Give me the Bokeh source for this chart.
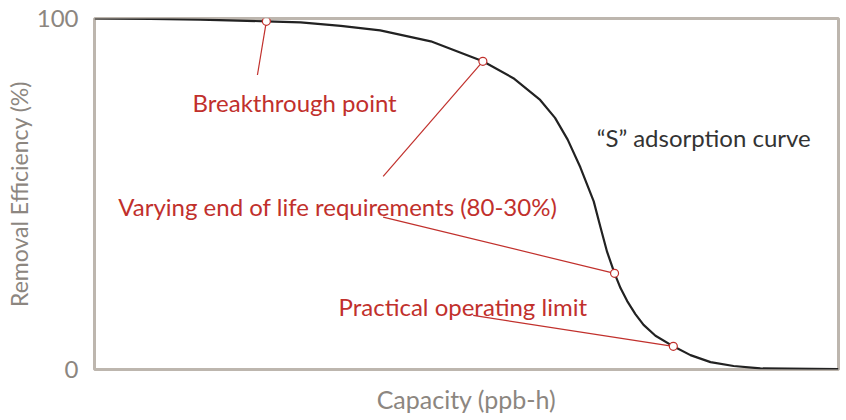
from bokeh.plotting import figure
from bokeh.models import Range1d, FixedTicker
from bokeh.core.properties import value
from bokeh.embed import file_html
from bokeh.resources import INLINE

# S-shaped adsorption curve (capacity in % of axis span, removal efficiency %)
capacity = [0, 7.5, 14.2, 23.1, 27.7, 33.1, 38.4, 45.2, 52.2, 56.3, 59.9, 61.9,
            63.6, 65.3, 67.1, 68.0, 68.9, 69.9, 70.7, 71.6, 72.7, 73.8, 75.4,
            77.8, 80.1, 82.8, 85.9, 89.5, 100]
efficiency = [100, 99.9, 99.7, 99.2, 98.9, 97.9, 96.6, 93.5, 87.8, 83.0, 76.8, 71.7,
              65.5, 57.6, 47.9, 40.6, 33.5, 27.4, 23.2, 19.5, 15.8, 12.7, 9.6,
              6.6, 4.1, 2.1, 1.0, 0.3, 0.1]

# marked points on the curve
mark_x = [23.1, 52.2, 69.9, 77.8]
mark_y = [99.2, 87.8, 27.4, 6.6]

# leader lines (from label to point)
lead_x0 = [21.9, 38.8, 38.8, 50.9]
lead_y0 = [83.9, 55.0, 43.4, 15.4]

# annotation labels
labels = ["Breakthrough point", "Varying end of life requirements (80-30%)",
          "Practical operating limit"]
label_x = [26.9, 32.7, 49.5]
label_y = [76.0, 46.5, 18.0]

curve_label = ["\u201cS\u201d adsorption curve"]
curve_label_x = [81.9]
curve_label_y = [66.1]

y_ticks = [0, 100]

RED = "#c1302c"
GRAY = "#8c8680"
FONT = "Lato"

p = figure(width=842, height=416, output_backend="svg", toolbar_location=None,
           x_range=Range1d(0, 100), y_range=Range1d(0, 100),
           min_border_left=94, min_border_right=4, min_border_top=18, min_border_bottom=44)

p.outline_line_color = "#bdb6ae"
p.outline_line_width = 3
p.outline_line_alpha = 1
p.grid.visible = False
p.background_fill_color = "white"
p.border_fill_color = "white"

p.yaxis.ticker = FixedTicker(ticks=y_ticks)
p.yaxis.axis_line_color = None
p.yaxis.major_tick_line_color = None
p.yaxis.minor_tick_line_color = None
p.yaxis.major_label_text_font = FONT
p.yaxis.major_label_text_font_size = "24px"
p.yaxis.major_label_text_color = GRAY
p.yaxis.major_label_standoff = 10
p.yaxis.axis_label = "Removal Efficiency (%)"
p.yaxis.axis_label_text_font = FONT
p.yaxis.axis_label_text_font_size = "23px"
p.yaxis.axis_label_text_font_style = "normal"
p.yaxis.axis_label_text_color = GRAY
p.yaxis.axis_label_standoff = 1

p.xaxis.ticker = FixedTicker(ticks=[])
p.xaxis.axis_line_color = None
p.xaxis.major_tick_line_color = None
p.xaxis.minor_tick_line_color = None
p.xaxis.axis_label = "Capacity (ppb-h)"
p.xaxis.axis_label_text_font = FONT
p.xaxis.axis_label_text_font_size = "25px"
p.xaxis.axis_label_text_font_style = "normal"
p.xaxis.axis_label_text_color = GRAY
p.xaxis.axis_label_standoff = 14

p.line(capacity, efficiency, line_color="#222222", line_width=2.2, line_join="round")

p.segment(x0=lead_x0, y0=lead_y0, x1=mark_x, y1=mark_y, line_color=RED, line_width=1.2)
p.scatter(mark_x, mark_y, size=8, fill_color="white", line_color=RED, line_width=1.2)

p.text(x=label_x, y=label_y, text=labels, text_color=RED, text_font=value(FONT),
       text_font_size="24px", text_align="center", text_baseline="alphabetic")
p.text(x=curve_label_x, y=curve_label_y, text=curve_label, text_color="#333333",
       text_font=value(FONT), text_font_size="24px", text_align="center",
       text_baseline="alphabetic")

open("out.html", "w").write(file_html(p, INLINE))
